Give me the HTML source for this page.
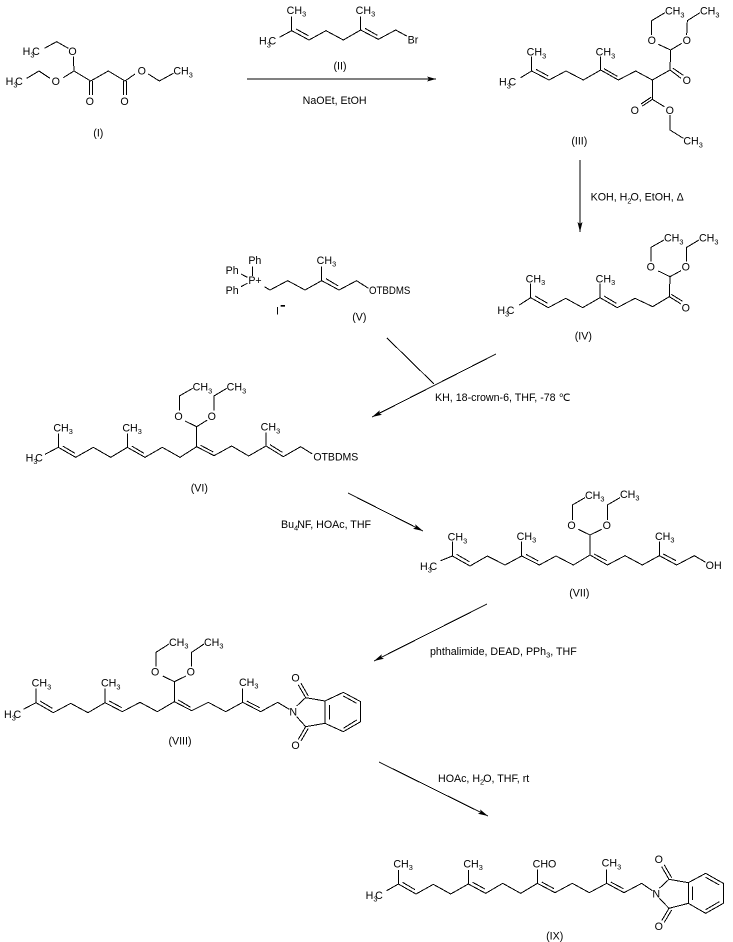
<!DOCTYPE html>
<html>
<head>
<meta charset="utf-8">
<style>
html,body{margin:0;padding:0;background:#fff;width:733px;height:942px;overflow:hidden}
svg{display:block}
polyline,line{fill:none;stroke:#000;stroke-width:3;shape-rendering:crispEdges}
text{font-family:"Liberation Sans",sans-serif;font-size:32px;fill:#000;stroke:none}
.s{font-size:22px}
.abs line{stroke-width:1}
.abs polygon{fill:#000;stroke:none}
.abs text{font-size:10.67px}
.abs .s{font-size:7.5px}
</style>
</head>
<body>
<svg width="733" height="942" viewBox="0 0 733 942" xmlns="http://www.w3.org/2000/svg">
<rect width="733" height="942" fill="#fff"/>

<!-- I -->
<g transform="scale(.33333)">
<polyline points="80,235 117,213 150,235"/>
<polyline points="190,233 222,213 272,243 325,213 375,243 405,222"/>
<polyline points="445,222 478,243 520,220"/>
<polyline points="133,145 170,125 205,145"/>
<polyline points="220,170 222,213"/>
<line x1="268" y1="243" x2="268" y2="285"/><line x1="277" y1="243" x2="277" y2="285"/>
<line x1="371" y1="243" x2="371" y2="285"/><line x1="380" y1="243" x2="380" y2="285"/>
<text x="17" y="255">H<tspan class="s" dy="8">3</tspan><tspan dy="-8" dx="-7">C</tspan></text>
<text x="68" y="165">H<tspan class="s" dy="8">3</tspan><tspan dy="-8" dx="-7">C</tspan></text>
<text x="155" y="255">O</text><text x="205" y="165">O</text><text x="413" y="224">O</text>
<text x="257" y="315">O</text><text x="361" y="315">O</text>
<text x="520" y="224">CH<tspan class="s" dy="8">3</tspan></text>
<text x="295" y="410" text-anchor="middle">(I)</text>
</g>

<!-- II -->
<g transform="translate(240,0) scale(.33333)">
<polyline points="118,112 155,92 207,120 258,92 310,120 362,90 415,118 467,90 500,108"/>
<line x1="155" y1="92" x2="155" y2="50"/><line x1="362" y1="90" x2="362" y2="50"/>
<line x1="168" y1="87" x2="205" y2="107"/><line x1="375" y1="85" x2="412" y2="106"/>
<text x="57" y="134">H<tspan class="s" dy="8">3</tspan><tspan dy="-8" dx="-7">C</tspan></text>
<text x="140" y="42">CH<tspan class="s" dy="8">3</tspan></text>
<text x="347" y="42">CH<tspan class="s" dy="8">3</tspan></text>
<text x="503" y="130">Br</text>
<text x="300" y="209" text-anchor="middle">(II)</text>
<text x="188" y="312">NaOEt, EtOH</text>
</g>

<!-- III -->
<g transform="translate(480,0) scale(.33333)">
<polyline points="122,233 155,213 207,240 258,213 310,240 362,210 415,240 467,213 517,240 570,210 572,150 535,133"/>
<line x1="572" y1="150" x2="605" y2="130"/>
<line x1="155" y1="213" x2="155" y2="170"/><line x1="362" y1="210" x2="362" y2="170"/>
<line x1="168" y1="208" x2="205" y2="228"/><line x1="372" y1="206" x2="412" y2="229"/>
<line x1="570" y1="210" x2="603" y2="235"/><line x1="578" y1="204" x2="610" y2="226"/>
<polyline points="515,105 515,62 555,38"/><polyline points="620,105 622,62 660,38"/>
<polyline points="517,240 517,298 553,320"/>
<line x1="517" y1="298" x2="487" y2="318"/><line x1="513" y1="292" x2="483" y2="312"/>
<polyline points="570,345 570,390 610,415"/>
<text x="57" y="257">H<tspan class="s" dy="8">3</tspan><tspan dy="-8" dx="-7">C</tspan></text>
<text x="140" y="167">CH<tspan class="s" dy="8">3</tspan></text>
<text x="347" y="167">CH<tspan class="s" dy="8">3</tspan></text>
<text x="555" y="44">CH<tspan class="s" dy="8">3</tspan></text>
<text x="660" y="44">CH<tspan class="s" dy="8">3</tspan></text>
<text x="610" y="434">CH<tspan class="s" dy="8">3</tspan></text>
<text x="503" y="132">O</text><text x="608" y="132">O</text><text x="608" y="252">O</text>
<text x="452" y="342">O</text><text x="557" y="342">O</text>
<text x="298" y="434" text-anchor="middle">(III)</text>
</g>

<!-- IV -->
<g transform="translate(480,160) scale(.33333)">
<polyline points="118,435 152,413 205,443 257,415 308,443 360,413 412,443 465,415 518,440 568,410 603,432"/>
<line x1="574" y1="403" x2="608" y2="424"/>
<line x1="152" y1="413" x2="152" y2="370"/><line x1="360" y1="413" x2="360" y2="370"/>
<line x1="165" y1="408" x2="203" y2="430"/><line x1="372" y1="408" x2="409" y2="430"/>
<polyline points="568,410 570,350 535,333"/><line x1="570" y1="350" x2="603" y2="332"/>
<polyline points="513,305 513,262 552,240"/><polyline points="620,305 620,262 657,240"/>
<text x="52" y="462">H<tspan class="s" dy="8">3</tspan><tspan dy="-8" dx="-7">C</tspan></text>
<text x="137" y="367">CH<tspan class="s" dy="8">3</tspan></text>
<text x="347" y="367">CH<tspan class="s" dy="8">3</tspan></text>
<text x="552" y="245">CH<tspan class="s" dy="8">3</tspan></text>
<text x="657" y="245">CH<tspan class="s" dy="8">3</tspan></text>
<text x="500" y="332">O</text><text x="605" y="332">O</text><text x="605" y="454">O</text>
<text x="310" y="539" text-anchor="middle">(IV)</text>
<text x="332" y="122">KOH, H<tspan class="s" dy="8">2</tspan><tspan dy="-8" dx="-3">O, EtOH, Δ</tspan></text>
</g>

<!-- V -->
<g transform="translate(210,240) scale(.33333)">
<polyline points="163,140 180,150 233,122 285,150 335,122 387,150 440,122 475,145"/>
<line x1="335" y1="122" x2="335" y2="80"/><line x1="348" y1="116" x2="385" y2="138"/>
<line x1="127" y1="80" x2="127" y2="108"/><line x1="93" y1="102" x2="112" y2="112"/><line x1="93" y1="140" x2="112" y2="130"/>
<text x="115" y="72">Ph</text><text x="47" y="102">Ph</text><text x="47" y="162">Ph</text>
<text x="115" y="132">P+</text>
<text x="320" y="72">CH<tspan class="s" dy="8">3</tspan></text>
<text x="477" y="162" textLength="124" lengthAdjust="spacingAndGlyphs">OTBDMS</text>
<text x="198" y="224">I</text>
<rect x="212" y="195" width="13" height="5" fill="#000"/>
<text x="448" y="242" text-anchor="middle">(V)</text>
</g>

<!-- VI -->
<g transform="translate(10,370) scale(.33333)">
<polyline points="105,253 145,232 197,262 250,232 302,262 352,232 405,262 457,232 510,262 560,230 612,257 665,228 716,258 768,228 820,260 872,230 907,252"/>
<line x1="145" y1="232" x2="145" y2="190"/><line x1="352" y1="232" x2="352" y2="190"/><line x1="768" y1="228" x2="768" y2="188"/>
<line x1="158" y1="228" x2="195" y2="250"/><line x1="365" y1="228" x2="402" y2="250"/>
<line x1="572" y1="226" x2="610" y2="246"/><line x1="780" y1="224" x2="817" y2="247"/>
<polyline points="560,230 560,170 525,153"/><line x1="560" y1="170" x2="592" y2="150"/>
<polyline points="508,122 508,78 548,55"/><polyline points="612,122 612,78 650,55"/>
<text x="47" y="274">H<tspan class="s" dy="8">3</tspan><tspan dy="-8" dx="-7">C</tspan></text>
<text x="130" y="184">CH<tspan class="s" dy="8">3</tspan></text>
<text x="337" y="184">CH<tspan class="s" dy="8">3</tspan></text>
<text x="752" y="182">CH<tspan class="s" dy="8">3</tspan></text>
<text x="548" y="62">CH<tspan class="s" dy="8">3</tspan></text>
<text x="650" y="62">CH<tspan class="s" dy="8">3</tspan></text>
<text x="493" y="150">O</text><text x="593" y="150">O</text>
<text x="910" y="272" textLength="135" lengthAdjust="spacingAndGlyphs">OTBDMS</text>
<text x="568" y="364" text-anchor="middle">(VI)</text>
</g>

<!-- VII -->
<g transform="translate(410,470) scale(.33333)">
<polyline points="92,272 127,258 180,288 232,258 285,285 335,258 388,285 438,258 490,285 540,255 592,285 645,257 697,285 748,257 800,285 853,257 887,277"/>
<line x1="127" y1="258" x2="127" y2="215"/><line x1="335" y1="258" x2="335" y2="215"/><line x1="748" y1="257" x2="748" y2="215"/>
<line x1="140" y1="253" x2="178" y2="275"/><line x1="348" y1="253" x2="385" y2="273"/>
<line x1="552" y1="252" x2="590" y2="272"/><line x1="760" y1="252" x2="798" y2="272"/>
<polyline points="540,255 540,195 505,178"/><line x1="540" y1="195" x2="575" y2="178"/>
<polyline points="487,150 487,105 525,83"/><polyline points="592,150 592,105 630,83"/>
<text x="30" y="300">H<tspan class="s" dy="8">3</tspan><tspan dy="-8" dx="-7">C</tspan></text>
<text x="113" y="212">CH<tspan class="s" dy="8">3</tspan></text>
<text x="320" y="210">CH<tspan class="s" dy="8">3</tspan></text>
<text x="735" y="210">CH<tspan class="s" dy="8">3</tspan></text>
<text x="525" y="87">CH<tspan class="s" dy="8">3</tspan></text>
<text x="630" y="84">CH<tspan class="s" dy="8">3</tspan></text>
<text x="472" y="177">O</text><text x="578" y="177">O</text>
<text x="887" y="297">OH</text>
<text x="508" y="380" text-anchor="middle">(VII)</text>
</g>

<!-- VIII -->
<g transform="translate(0,620) scale(.33333)">
<polyline points="70,268 108,248 160,278 212,250 264,278 315,248 367,275 420,247 472,275 523,245 575,272 625,247 677,275 728,247 782,275 833,247 868,268"/>
<line x1="108" y1="248" x2="108" y2="205"/><line x1="315" y1="248" x2="315" y2="205"/><line x1="728" y1="247" x2="728" y2="205"/>
<line x1="120" y1="243" x2="157" y2="265"/><line x1="328" y1="243" x2="365" y2="263"/>
<line x1="535" y1="240" x2="572" y2="262"/><line x1="740" y1="243" x2="779" y2="263"/>
<polyline points="523,245 523,185 488,168"/><line x1="523" y1="185" x2="558" y2="168"/>
<polyline points="468,140 468,97 507,72"/><polyline points="575,140 575,97 612,72"/>
<polyline points="890,258 917,233 975,243 975,310 917,320 890,290"/>
<line x1="917" y1="233" x2="895" y2="195"/><line x1="925" y1="228" x2="903" y2="190"/>
<line x1="917" y1="320" x2="895" y2="358"/><line x1="925" y1="325" x2="903" y2="363"/>
<polyline points="975,243 1030,217 1082,245 1082,305 1030,335 975,310"/>
<line x1="988" y1="255" x2="988" y2="298"/><line x1="1030" y1="228" x2="1070" y2="250"/><line x1="1030" y1="325" x2="1070" y2="300"/>
<text x="12" y="294">H<tspan class="s" dy="8">3</tspan><tspan dy="-8" dx="-7">C</tspan></text>
<text x="95" y="200">CH<tspan class="s" dy="8">3</tspan></text>
<text x="303" y="200">CH<tspan class="s" dy="8">3</tspan></text>
<text x="717" y="198">CH<tspan class="s" dy="8">3</tspan></text>
<text x="507" y="78">CH<tspan class="s" dy="8">3</tspan></text>
<text x="612" y="78">CH<tspan class="s" dy="8">3</tspan></text>
<text x="453" y="167">O</text><text x="560" y="167">O</text>
<text x="868" y="287">N</text>
<text x="874" y="185">O</text><text x="874" y="387">O</text>
<text x="540" y="374" text-anchor="middle">(VIII)</text>
</g>

<!-- IX -->
<g transform="translate(360,820) scale(.33333)">
<polyline points="80,212 115,192 168,222 220,193 272,222 325,192 377,220 428,190 482,220 532,190 585,218 637,190 688,218 740,190 792,218 845,190 877,212"/>
<line x1="115" y1="192" x2="115" y2="150"/><line x1="325" y1="192" x2="325" y2="150"/><line x1="532" y1="190" x2="532" y2="148"/><line x1="740" y1="190" x2="740" y2="148"/>
<line x1="128" y1="187" x2="165" y2="209"/><line x1="338" y1="187" x2="375" y2="207"/>
<line x1="545" y1="186" x2="582" y2="206"/><line x1="752" y1="186" x2="790" y2="206"/>
<polyline points="898,205 927,178 985,188 985,250 927,265 898,235"/>
<line x1="927" y1="178" x2="905" y2="140"/><line x1="935" y1="173" x2="913" y2="135"/>
<line x1="927" y1="265" x2="905" y2="302"/><line x1="935" y1="270" x2="913" y2="307"/>
<polyline points="985,188 1037,160 1090,190 1090,250 1037,280 985,250"/>
<line x1="998" y1="200" x2="998" y2="240"/><line x1="1037" y1="172" x2="1078" y2="195"/><line x1="1037" y1="269" x2="1078" y2="245"/>
<text x="17" y="237">H<tspan class="s" dy="8">3</tspan><tspan dy="-8" dx="-7">C</tspan></text>
<text x="100" y="142">CH<tspan class="s" dy="8">3</tspan></text>
<text x="310" y="142">CH<tspan class="s" dy="8">3</tspan></text>
<text x="518" y="142">CHO</text>
<text x="725" y="140">CH<tspan class="s" dy="8">3</tspan></text>
<text x="877" y="232">N</text>
<text x="884" y="129">O</text><text x="884" y="330">O</text>
<text x="584" y="359" text-anchor="middle">(IX)</text>
</g>

<!-- arrows and reagents, absolute coordinates -->
<g class="abs">
<line x1="247" y1="79" x2="436" y2="79"/>
<polygon points="436,79 427,76.5 429,79 427,81.5"/>
<line x1="580" y1="160" x2="580" y2="232"/>
<polygon points="580,232 577.5,222 580,224 582.5,222"/>
<line x1="496" y1="354" x2="372" y2="417"/>
<polygon points="372,417 382,414.7 379.1,413.4 379.8,410.3"/>
<line x1="387" y1="338" x2="434" y2="384"/>
<line x1="348" y1="493" x2="423" y2="531"/>
<polygon points="423,531 413,528.7 415.9,527.4 415.2,524.3"/>
<line x1="487" y1="604" x2="374" y2="661"/>
<polygon points="374,661 384,658.7 381.1,657.4 381.8,654.3"/>
<line x1="379" y1="762" x2="488" y2="816"/>
<polygon points="488,816 477.9,813.8 480.8,812.4 480.1,809.4"/>
<text x="435" y="401">KH, 18-crown-6, THF, -78 ℃</text>
<text x="281" y="528">Bu<tspan class="s" dy="2.5">4</tspan><tspan dy="-2.5" dx="-1">NF, HOAc, THF</tspan></text>
<text x="430" y="655">phthalimide, DEAD, PPh<tspan class="s" dy="2.5">3</tspan><tspan dy="-2.5">, THF</tspan></text>
<text x="438" y="782">HOAc, H<tspan class="s" dy="2.5">2</tspan><tspan dy="-2.5" dx="-1">O, THF, rt</tspan></text>
</g>
</svg>
</body>
</html>
